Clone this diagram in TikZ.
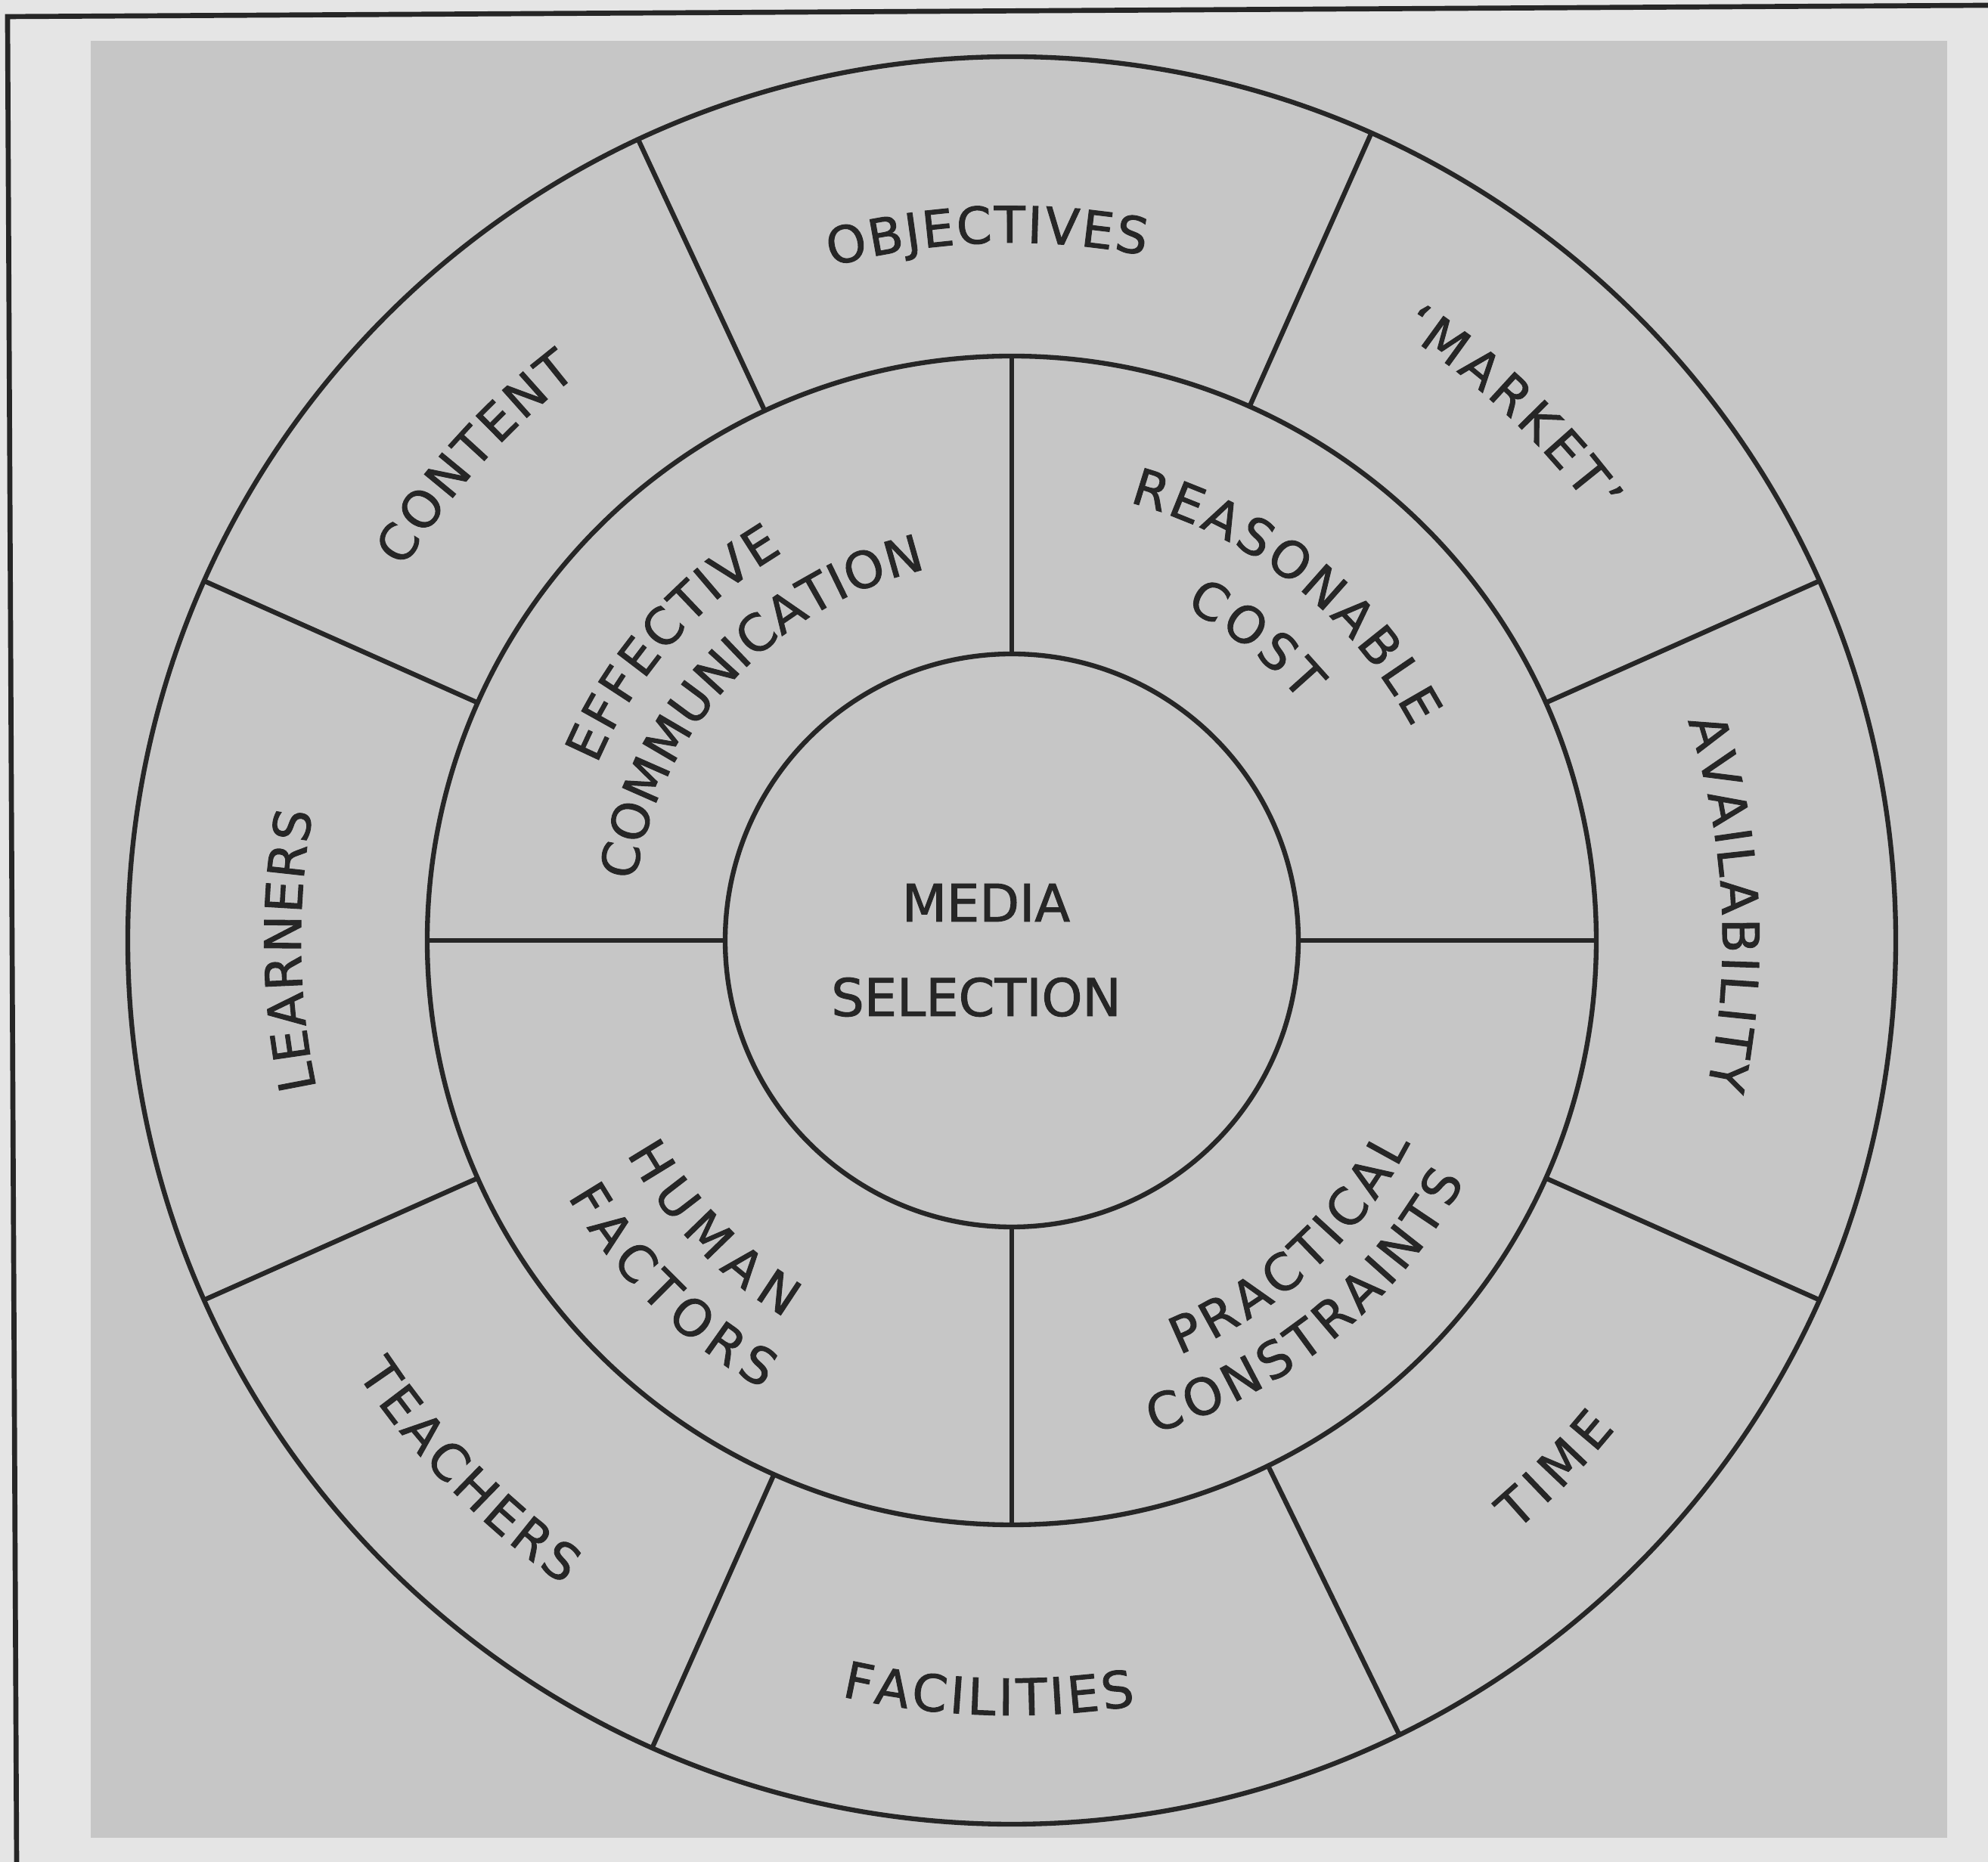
\documentclass[tikz,border=0pt]{standalone}
\usepackage{fontspec}
\setmainfont{DejaVu Sans}[FakeBold=1.4]
\usetikzlibrary{decorations.text}
\definecolor{paper}{RGB}{229, 229, 229}
\definecolor{plate}{RGB}{198, 198, 198}
\definecolor{ink}{RGB}{38, 38, 38}
\newcommand{\ringfont}{\fontsize{19}{21}\selectfont}
\newcommand{\ringtext}[4]{\path[ringlabel={#4}] (#2:#1) arc[start angle=#2, end angle=#3, radius=#1];}
\tikzset{
    rim/.style={color=ink, line width=1.8pt},
    ringlabel/.style={decorate, decoration={text along path, text align={fit to path}, text color=ink, text={|\ringfont|#1}}}
}

\begin{document}
\begin{tikzpicture}
            \useasboundingbox (-13.38,-12.19) rectangle (12.91,12.44);
            \fill[paper] (-13.38,-12.19) rectangle (12.91,12.44);
            \fill[plate] (-12.18,-11.87) rectangle (12.37,11.90);
            \draw[ink, line width=1.9pt] (-13.16,-12.19) -- (-13.28,12.22) -- (12.91,12.37);

            \draw[rim] (0,0) circle (11.69);
            \draw[rim] (0,0) circle (7.73);
            \draw[rim] (0,0) circle (3.79);
            \foreach \a in {24,66,115,156,204,246,296,336}
                \draw[rim] (\a:7.73) -- (\a:11.69);
            \foreach \a in {0,90,180,270}
                \draw[rim] (\a:3.79) -- (\a:7.73);

            \node[color=ink, font=\fontsize{19.5}{22}\selectfont] (media)     at (-0.34, 0.50) {MEDIA};
            \node[color=ink, font=\fontsize{19.5}{22}\selectfont] (selection) at (-0.47,-0.75) {SELECTION};

            \ringtext{9.23}{105}{79}{OBJECTIVES}
            \ringtext{9.55}{57.4}{36}{`MARKET'}
            \ringtext{9.40}{18}{-12}{AVAILABILITY}
            \ringtext{10.27}{-49.5}{-39}{TIME}
            \ringtext{10.25}{-102.7}{-80.8}{FACILITIES}
            \ringtext{10.38}{-146.5}{-124.8}{TEACHERS}
            \ringtext{9.40}{192}{169.6}{LEARNERS}
            \ringtext{9.43}{148.5}{127.5}{CONTENT}

            \ringtext{5.96}{157}{120.5}{EFFECTIVE}
            \ringtext{5.04}{171}{103}{COMMUNICATION}
            \ringtext{6.00}{75}{28}{REASONABLE}
            \ringtext{4.96}{62.5}{39.5}{COST}
            \ringtext{5.82}{-151}{-121}{HUMAN}
            \ringtext{6.78}{-150}{-119}{FACTORS}
            \ringtext{5.91}{-68}{-27}{PRACTICAL}
            \ringtext{6.78}{-74}{-28}{CONSTRAINTS}
        \end{tikzpicture}
\end{document}
